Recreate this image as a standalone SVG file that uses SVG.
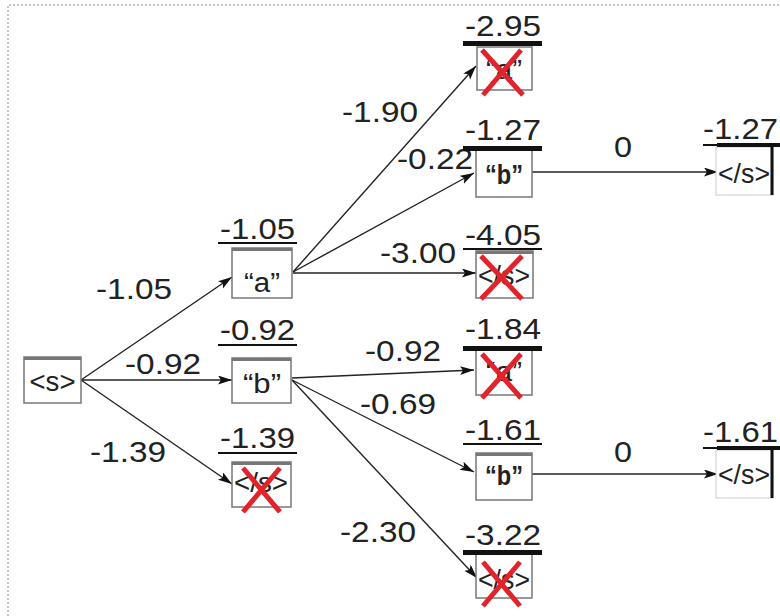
<svg xmlns="http://www.w3.org/2000/svg" width="780" height="616" viewBox="0 0 780 616">
  <style>
    .lbl { font-family: "Liberation Sans", Arial, sans-serif; font-size: 30px; fill: #222; }
    .tok { font-family: "Liberation Sans", Arial, sans-serif; font-size: 27px; fill: #222; text-anchor: middle; }
    .bold { font-weight: bold; }
    .box { fill: #fff; stroke: #777; stroke-width: 1.5; }
    .top { stroke: #777; stroke-width: 3; }
    .ul { stroke: #111; stroke-width: 2; }
    .bar { fill: #111; }
    .edge { stroke: #222; stroke-width: 1.4; fill: none; marker-end: url(#ah); }
    .x { stroke: #e2232b; stroke-width: 5; }
    .frame { stroke: #888; stroke-width: 1; stroke-dasharray: 2 2; fill: none; }
  </style>
  <defs>
    <marker id="ah" markerUnits="userSpaceOnUse" markerWidth="15" markerHeight="10" refX="14" refY="4.5" orient="auto">
      <path d="M0,0 L14,4.5 L0,9 L3,4.5 z" fill="#111"/>
    </marker>
  </defs>
  <rect width="780" height="616" fill="#fff"/>
  <path class="frame" d="M8,616 V5 H780"/>

  <!-- connectors -->
  <g id="edges">
    <path class="edge" d="M81,380 L232,277"/>
    <path class="edge" d="M81,380 L232,380"/>
    <path class="edge" d="M81,380 L232,484"/>
    <path class="edge" d="M293,272 L476,66"/>
    <path class="edge" d="M293,272 L474,173"/>
    <path class="edge" d="M293,273 L476,273"/>
    <path class="edge" d="M292,378 L474,370"/>
    <path class="edge" d="M292,380 L474,472"/>
    <path class="edge" d="M292,380 L477,578"/>
    <path class="edge" d="M532,172 L718,172"/>
    <path class="edge" d="M532,474 L718,474"/>
    <text class="lbl" x="96" y="299" textLength="76" lengthAdjust="spacingAndGlyphs">-1.05</text>
    <text class="lbl" x="125" y="374" textLength="76" lengthAdjust="spacingAndGlyphs">-0.92</text>
    <text class="lbl" x="90" y="462" textLength="76" lengthAdjust="spacingAndGlyphs">-1.39</text>
    <text class="lbl" x="342" y="122" textLength="76" lengthAdjust="spacingAndGlyphs">-1.90</text>
    <text class="lbl" x="397" y="169" textLength="76" lengthAdjust="spacingAndGlyphs">-0.22</text>
    <text class="lbl" x="380" y="263" textLength="76" lengthAdjust="spacingAndGlyphs">-3.00</text>
    <text class="lbl" x="365" y="361" textLength="76" lengthAdjust="spacingAndGlyphs">-0.92</text>
    <text class="lbl" x="360" y="414" textLength="76" lengthAdjust="spacingAndGlyphs">-0.69</text>
    <text class="lbl" x="340" y="542" textLength="76" lengthAdjust="spacingAndGlyphs">-2.30</text>
    <text class="lbl" x="614" y="157" textLength="18" lengthAdjust="spacingAndGlyphs">0</text>
    <text class="lbl" x="614" y="462" textLength="18" lengthAdjust="spacingAndGlyphs">0</text>
  </g>

  <!-- start token -->
  <g id="n_s">
    <rect class="box" x="24" y="357" width="57" height="46"/>
    <line class="top" x1="24" y1="358.5" x2="81" y2="358.5"/>
    <text class="tok" x="52.5" y="391" textLength="46" lengthAdjust="spacingAndGlyphs">&lt;s&gt;</text>
  </g>

  <!-- step 1 -->
  <g id="n_a1">
    <line class="ul" x1="218" y1="243" x2="297" y2="243"/>
    <text class="lbl" x="220" y="239" textLength="75" lengthAdjust="spacingAndGlyphs">-1.05</text>
    <rect class="box" x="232" y="248" width="60" height="50"/>
    <line class="top" x1="232" y1="249.5" x2="292" y2="249.5"/>
    <text class="tok" x="262" y="292" textLength="36" lengthAdjust="spacingAndGlyphs">“a”</text>
  </g>
  <g id="n_b1">
    <line class="ul" x1="218" y1="345" x2="297" y2="345"/>
    <text class="lbl" x="220" y="340" textLength="75" lengthAdjust="spacingAndGlyphs">-0.92</text>
    <rect class="box" x="232" y="358" width="59" height="45"/>
    <line class="top" x1="232" y1="359.5" x2="291" y2="359.5"/>
    <text class="tok" x="262" y="393" textLength="38" lengthAdjust="spacingAndGlyphs">“b”</text>
  </g>
  <g id="n_e1">
    <line class="ul" x1="218" y1="453" x2="297" y2="453"/>
    <text class="lbl" x="220" y="448" textLength="75" lengthAdjust="spacingAndGlyphs">-1.39</text>
    <rect class="box" x="232" y="462" width="59" height="45"/>
    <line class="top" x1="232" y1="463.5" x2="291" y2="463.5"/>
    <text class="tok" x="261" y="492" textLength="54" lengthAdjust="spacingAndGlyphs">&lt;/s&gt;</text>
    <path class="x" d="M243,468 L280,512 M280,468 L243,512"/>
  </g>

  <!-- step 2 -->
  <g id="n_a2">
    <text class="lbl" x="465" y="36" textLength="76" lengthAdjust="spacingAndGlyphs">-2.95</text>
    <rect class="box" x="477" y="47" width="55" height="43"/>
    <rect class="bar" x="463" y="41" width="79" height="5"/>
    <text class="tok" x="504" y="79" textLength="36" lengthAdjust="spacingAndGlyphs">“a”</text>
    <path class="x" d="M482,50 L523,95 M521,50 L483,95"/>
  </g>
  <g id="n_b2">
    <text class="lbl" x="465" y="140" textLength="76" lengthAdjust="spacingAndGlyphs">-1.27</text>
    <rect class="box" x="476" y="150" width="56" height="47"/>
    <rect class="bar" x="463" y="146" width="79" height="5"/>
    <text class="tok bold" x="504" y="184" textLength="38" lengthAdjust="spacingAndGlyphs">“b”</text>
  </g>
  <g id="n_e2">
    <line class="ul" x1="463" y1="249" x2="542" y2="249"/>
    <text class="lbl" x="465" y="245" textLength="76" lengthAdjust="spacingAndGlyphs">-4.05</text>
    <rect class="box" x="476" y="251" width="57" height="47"/>
    <line class="top" x1="476" y1="252.5" x2="533" y2="252.5"/>
    <text class="tok" x="504" y="285" textLength="52" lengthAdjust="spacingAndGlyphs">&lt;/s&gt;</text>
    <path class="x" d="M481,256 L522,299 M522,256 L481,299"/>
  </g>
  <g id="n_a3">
    <text class="lbl" x="465" y="339" textLength="76" lengthAdjust="spacingAndGlyphs">-1.84</text>
    <rect class="box" x="476" y="350" width="56" height="45"/>
    <rect class="bar" x="463" y="346" width="79" height="5"/>
    <text class="tok" x="504" y="381" textLength="36" lengthAdjust="spacingAndGlyphs">“a”</text>
    <path class="x" d="M482,354 L521,398 M521,354 L482,398"/>
  </g>
  <g id="n_b3">
    <line class="ul" x1="463" y1="444" x2="542" y2="444"/>
    <text class="lbl" x="465" y="440" textLength="76" lengthAdjust="spacingAndGlyphs">-1.61</text>
    <rect class="box" x="476" y="453" width="56" height="47"/>
    <line class="top" x1="476" y1="454.5" x2="532" y2="454.5"/>
    <text class="tok bold" x="504" y="485" textLength="38" lengthAdjust="spacingAndGlyphs">“b”</text>
  </g>
  <g id="n_e3">
    <text class="lbl" x="465" y="545" textLength="76" lengthAdjust="spacingAndGlyphs">-3.22</text>
    <rect class="box" x="476" y="554" width="56" height="44"/>
    <rect class="bar" x="463" y="550" width="79" height="5"/>
    <text class="tok" x="504" y="589" textLength="52" lengthAdjust="spacingAndGlyphs">&lt;/s&gt;</text>
    <path class="x" d="M483,562 L520,606 M520,562 L483,606"/>
  </g>

  <!-- step 3 -->
  <g id="n_e4">
    <text class="lbl" x="703" y="139" textLength="75" lengthAdjust="spacingAndGlyphs">-1.27</text>
    <rect x="716" y="147" width="57" height="48" fill="#fff" stroke="#ccc" stroke-width="1"/>
    <line class="ul" x1="703" y1="145" x2="717" y2="145"/>
    <rect class="bar" x="717" y="143" width="63" height="4"/>
    <line x1="772" y1="143" x2="772" y2="195" stroke="#111" stroke-width="3"/>
    <text class="tok" x="744" y="183" textLength="52" lengthAdjust="spacingAndGlyphs">&lt;/s&gt;</text>
  </g>
  <g id="n_e5">
    <text class="lbl" x="703" y="442" textLength="75" lengthAdjust="spacingAndGlyphs">-1.61</text>
    <rect x="716" y="450" width="57" height="48" fill="#fff" stroke="#ccc" stroke-width="1"/>
    <line class="ul" x1="703" y1="448" x2="717" y2="448"/>
    <rect class="bar" x="717" y="446" width="63" height="4"/>
    <line x1="772" y1="446" x2="772" y2="498" stroke="#111" stroke-width="3"/>
    <text class="tok" x="744" y="484" textLength="52" lengthAdjust="spacingAndGlyphs">&lt;/s&gt;</text>
  </g>
</svg>
